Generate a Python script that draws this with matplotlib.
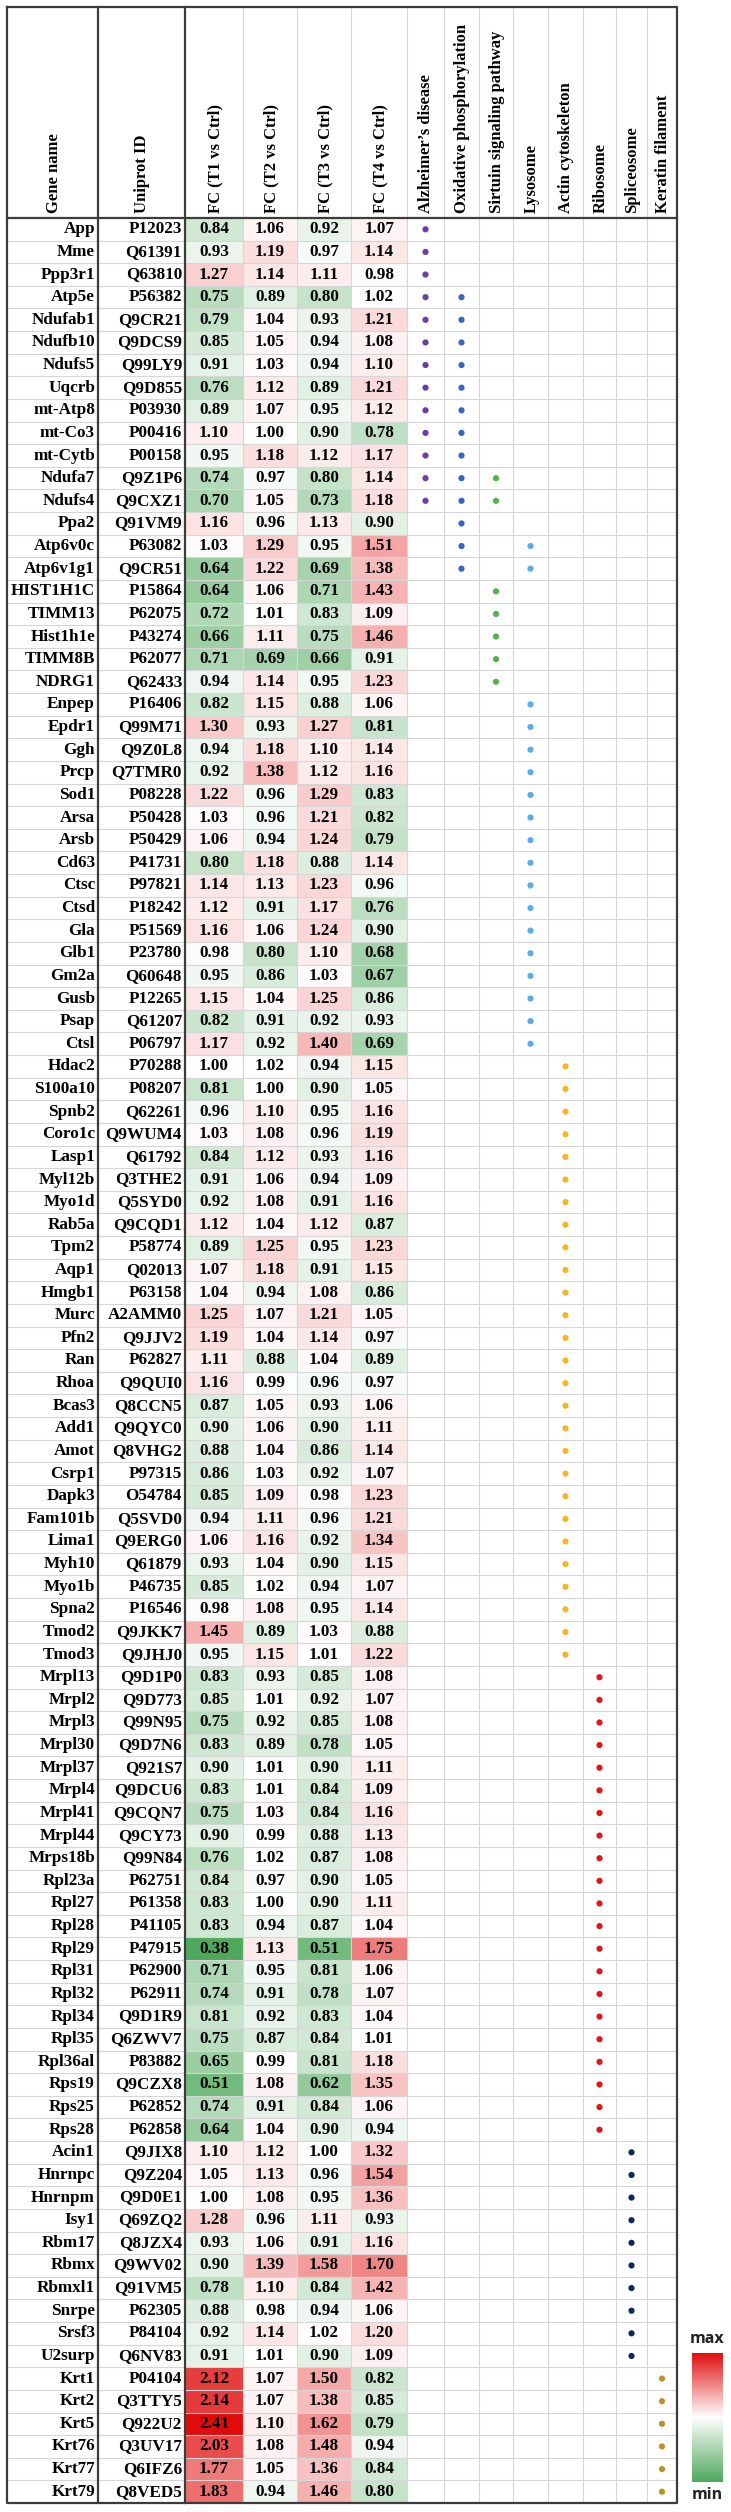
import numpy as np
import matplotlib
matplotlib.use("Agg")
import matplotlib.pyplot as plt
from matplotlib.colors import LinearSegmentedColormap, TwoSlopeNorm

# ---- data -----------------------------------------------------------------
genes = [
    "App", "Mme", "Ppp3r1", "Atp5e", "Ndufab1", "Ndufb10", "Ndufs5", "Uqcrb",
    "mt-Atp8", "mt-Co3", "mt-Cytb", "Ndufa7", "Ndufs4", "Ppa2", "Atp6v0c",
    "Atp6v1g1", "HIST1H1C", "TIMM13", "Hist1h1e", "TIMM8B", "NDRG1", "Enpep",
    "Epdr1", "Ggh", "Prcp", "Sod1", "Arsa", "Arsb", "Cd63", "Ctsc", "Ctsd",
    "Gla", "Glb1", "Gm2a", "Gusb", "Psap", "Ctsl", "Hdac2", "S100a10", "Spnb2",
    "Coro1c", "Lasp1", "Myl12b", "Myo1d", "Rab5a", "Tpm2", "Aqp1", "Hmgb1",
    "Murc", "Pfn2", "Ran", "Rhoa", "Bcas3", "Add1", "Amot", "Csrp1", "Dapk3",
    "Fam101b", "Lima1", "Myh10", "Myo1b", "Spna2", "Tmod2", "Tmod3", "Mrpl13",
    "Mrpl2", "Mrpl3", "Mrpl30", "Mrpl37", "Mrpl4", "Mrpl41", "Mrpl44",
    "Mrps18b", "Rpl23a", "Rpl27", "Rpl28", "Rpl29", "Rpl31", "Rpl32", "Rpl34",
    "Rpl35", "Rpl36al", "Rps19", "Rps25", "Rps28", "Acin1", "Hnrnpc", "Hnrnpm",
    "Isy1", "Rbm17", "Rbmx", "Rbmxl1", "Snrpe", "Srsf3", "U2surp", "Krt1",
    "Krt2", "Krt5", "Krt76", "Krt77", "Krt79",
]
uniprot = [
    "P12023", "Q61391", "Q63810", "P56382", "Q9CR21", "Q9DCS9", "Q99LY9", "Q9D855",
    "P03930", "P00416", "P00158", "Q9Z1P6", "Q9CXZ1", "Q91VM9", "P63082",
    "Q9CR51", "P15864", "P62075", "P43274", "P62077", "Q62433", "P16406",
    "Q99M71", "Q9Z0L8", "Q7TMR0", "P08228", "P50428", "P50429", "P41731", "P97821", "P18242",
    "P51569", "P23780", "Q60648", "P12265", "Q61207", "P06797", "P70288", "P08207", "Q62261",
    "Q9WUM4", "Q61792", "Q3THE2", "Q5SYD0", "Q9CQD1", "P58774", "Q02013", "P63158",
    "A2AMM0", "Q9JJV2", "P62827", "Q9QUI0", "Q8CCN5", "Q9QYC0", "Q8VHG2", "P97315", "O54784",
    "Q5SVD0", "Q9ERG0", "Q61879", "P46735", "P16546", "Q9JKK7", "Q9JHJ0", "Q9D1P0",
    "Q9D773", "Q99N95", "Q9D7N6", "Q921S7", "Q9DCU6", "Q9CQN7", "Q9CY73",
    "Q99N84", "P62751", "P61358", "P41105", "P47915", "P62900", "P62911", "Q9D1R9",
    "Q6ZWV7", "P83882", "Q9CZX8", "P62852", "P62858", "Q9JIX8", "Q9Z204", "Q9D0E1",
    "Q69ZQ2", "Q8JZX4", "Q9WV02", "Q91VM5", "P62305", "P84104", "Q6NV83", "P04104",
    "Q3TTY5", "Q922U2", "Q3UV17", "Q6IFZ6", "Q8VED5",
]
fc_t1 = [
    0.84, 0.93, 1.27, 0.75, 0.79, 0.85, 0.91, 0.76, 0.89, 1.10, 0.95, 0.74, 0.70,
    1.16, 1.03, 0.64, 0.64, 0.72, 0.66, 0.71, 0.94, 0.82, 1.30, 0.94, 0.92, 1.22,
    1.03, 1.06, 0.80, 1.14, 1.12, 1.16, 0.98, 0.95, 1.15, 0.82, 1.17, 1.00, 0.81,
    0.96, 1.03, 0.84, 0.91, 0.92, 1.12, 0.89, 1.07, 1.04, 1.25, 1.19, 1.11, 1.16,
    0.87, 0.90, 0.88, 0.86, 0.85, 0.94, 1.06, 0.93, 0.85, 0.98, 1.45, 0.95, 0.83,
    0.85, 0.75, 0.83, 0.90, 0.83, 0.75, 0.90, 0.76, 0.84, 0.83, 0.83, 0.38, 0.71,
    0.74, 0.81, 0.75, 0.65, 0.51, 0.74, 0.64, 1.10, 1.05, 1.00, 1.28, 0.93, 0.90,
    0.78, 0.88, 0.92, 0.91, 2.12, 2.14, 2.41, 2.03, 1.77, 1.83,
]
fc_t2 = [
    1.06, 1.19, 1.14, 0.89, 1.04, 1.05, 1.03, 1.12, 1.07, 1.00, 1.18, 0.97, 1.05,
    0.96, 1.29, 1.22, 1.06, 1.01, 1.11, 0.69, 1.14, 1.15, 0.93, 1.18, 1.38, 0.96,
    0.96, 0.94, 1.18, 1.13, 0.91, 1.06, 0.80, 0.86, 1.04, 0.91, 0.92, 1.02, 1.00,
    1.10, 1.08, 1.12, 1.06, 1.08, 1.04, 1.25, 1.18, 0.94, 1.07, 1.04, 0.88, 0.99,
    1.05, 1.06, 1.04, 1.03, 1.09, 1.11, 1.16, 1.04, 1.02, 1.08, 0.89, 1.15, 0.93,
    1.01, 0.92, 0.89, 1.01, 1.01, 1.03, 0.99, 1.02, 0.97, 1.00, 0.94, 1.13, 0.95,
    0.91, 0.92, 0.87, 0.99, 1.08, 0.91, 1.04, 1.12, 1.13, 1.08, 0.96, 1.06, 1.39,
    1.10, 0.98, 1.14, 1.01, 1.07, 1.07, 1.10, 1.08, 1.05, 0.94,
]
fc_t3 = [
    0.92, 0.97, 1.11, 0.80, 0.93, 0.94, 0.94, 0.89, 0.95, 0.90, 1.12, 0.80, 0.73,
    1.13, 0.95, 0.69, 0.71, 0.83, 0.75, 0.66, 0.95, 0.88, 1.27, 1.10, 1.12, 1.29,
    1.21, 1.24, 0.88, 1.23, 1.17, 1.24, 1.10, 1.03, 1.25, 0.92, 1.40, 0.94, 0.90,
    0.95, 0.96, 0.93, 0.94, 0.91, 1.12, 0.95, 0.91, 1.08, 1.21, 1.14, 1.04, 0.96,
    0.93, 0.90, 0.86, 0.92, 0.98, 0.96, 0.92, 0.90, 0.94, 0.95, 1.03, 1.01, 0.85,
    0.92, 0.85, 0.78, 0.90, 0.84, 0.84, 0.88, 0.87, 0.90, 0.90, 0.87, 0.51, 0.81,
    0.78, 0.83, 0.84, 0.81, 0.62, 0.84, 0.90, 1.00, 0.96, 0.95, 1.11, 0.91, 1.58,
    0.84, 0.94, 1.02, 0.90, 1.50, 1.38, 1.62, 1.48, 1.36, 1.46,
]
fc_t4 = [
    1.07, 1.14, 0.98, 1.02, 1.21, 1.08, 1.10, 1.21, 1.12, 0.78, 1.17, 1.14, 1.18,
    0.90, 1.51, 1.38, 1.43, 1.09, 1.46, 0.91, 1.23, 1.06, 0.81, 1.14, 1.16, 0.83,
    0.82, 0.79, 1.14, 0.96, 0.76, 0.90, 0.68, 0.67, 0.86, 0.93, 0.69, 1.15, 1.05,
    1.16, 1.19, 1.16, 1.09, 1.16, 0.87, 1.23, 1.15, 0.86, 1.05, 0.97, 0.89, 0.97,
    1.06, 1.11, 1.14, 1.07, 1.23, 1.21, 1.34, 1.15, 1.07, 1.14, 0.88, 1.22, 1.08,
    1.07, 1.08, 1.05, 1.11, 1.09, 1.16, 1.13, 1.08, 1.05, 1.11, 1.04, 1.75, 1.06,
    1.07, 1.04, 1.01, 1.18, 1.35, 1.06, 0.94, 1.32, 1.54, 1.36, 0.93, 1.16, 1.70,
    1.42, 1.06, 1.20, 1.09, 0.82, 0.85, 0.79, 0.94, 0.84, 0.80,
]
fc_headers = ["FC (T1 vs Ctrl)", "FC (T2 vs Ctrl)", "FC (T3 vs Ctrl)", "FC (T4 vs Ctrl)"]

pathways = [
    "Alzheimer\u2019s disease", "Oxidative phosphorylation", "Sirtuin signaling pathway",
    "Lysosome", "Actin cytoskeleton", "Ribosome", "Spliceosome", "Keratin filament",
]
pathway_colors = ["#6a3fa3", "#3466c2", "#55b04f", "#5aaee8",
                  "#f2b829", "#e3141c", "#14245c", "#b9922c"]


def span(first, last):
    return genes[genes.index(first):genes.index(last) + 1]


pathway_members = [
    span("App", "Ndufs4"),
    span("Atp5e", "Atp6v1g1"),
    ["Ndufa7", "Ndufs4"] + span("HIST1H1C", "NDRG1"),
    ["Atp6v0c", "Atp6v1g1"] + span("Enpep", "Ctsl"),
    span("Hdac2", "Tmod3"),
    span("Mrpl13", "Rps28"),
    span("Acin1", "U2surp"),
    span("Krt1", "Krt79"),
]

# ---- layout (pixels) ------------------------------------------------------
W, H = 731, 2512
col_edges = [7, 98, 185, 243, 297, 351, 407, 444, 479, 513, 548, 583, 616, 647, 677]
top, head_bot, bottom = 7, 218, 2503
n = len(genes)
y_edges = np.linspace(head_bot, bottom, n + 1)
y_mid = (y_edges[:-1] + y_edges[1:]) / 2
x_mid = [(a + b) / 2 for a, b in zip(col_edges[:-1], col_edges[1:])]

SERIF = "Liberation Serif"
cmap = LinearSegmentedColormap.from_list("gwr", ["#4fa85c", "#ffffff", "#e00b0b"])
fc = np.array([fc_t1, fc_t2, fc_t3, fc_t4]).T
norm = TwoSlopeNorm(vmin=fc.min(), vcenter=1.0, vmax=fc.max())

fig = plt.figure(figsize=(W / 100, H / 100), dpi=100)
ax = fig.add_axes([0, 0, 1, 1])
ax.set_xlim(0, W)
ax.set_ylim(H, 0)
ax.axis("off")

# heatmap cells
ax.pcolormesh(col_edges[2:7], y_edges, fc, cmap=cmap, norm=norm, zorder=1)

# grid
grid_c = "#d6d6d6"
for y in y_edges[1:-1]:
    ax.plot([col_edges[0], col_edges[-1]], [y, y], color=grid_c, lw=0.8, zorder=2)
for x in col_edges[3:6] + col_edges[7:14]:
    ax.plot([x, x], [top, bottom], color=grid_c, lw=0.8, zorder=2)
x_fc_end = col_edges[6]
ax.plot([x_fc_end, x_fc_end], [top, bottom], color=grid_c, lw=0.8, zorder=2)

dark = "#3c3c3c"
for x in col_edges[1:3]:
    ax.plot([x, x], [top, bottom], color=dark, lw=1.6, zorder=3)
ax.plot([col_edges[0], col_edges[-1]], [head_bot, head_bot], color=dark, lw=1.6, zorder=3)
ax.plot([col_edges[0], col_edges[-1], col_edges[-1], col_edges[0], col_edges[0]],
        [top, top, bottom, bottom, top], color=dark, lw=1.6, zorder=3)

# header
headers = ["Gene name", "Uniprot ID"] + fc_headers + pathways
for xm, label in zip(x_mid, headers):
    ax.text(xm + 1, head_bot - 5, label, rotation=90, ha="center", va="bottom",
            fontsize=12, fontweight="bold", family=SERIF, zorder=4)

# body text
fs = 12.3
for i in range(n):
    ax.text(col_edges[1] - 3, y_mid[i], genes[i], ha="right", va="center",
            fontsize=fs, fontweight="bold", family=SERIF, zorder=4)
    ax.text(col_edges[2] - 3, y_mid[i], uniprot[i], ha="right", va="center",
            fontsize=fs, fontweight="bold", family=SERIF, zorder=4)
    for j in range(4):
        ax.text(x_mid[2 + j], y_mid[i], f"{fc[i, j]:.2f}", ha="center", va="center",
                fontsize=fs, fontweight="bold", family=SERIF, zorder=4)

# pathway dots
for k, (members, color) in enumerate(zip(pathway_members, pathway_colors)):
    rows = [genes.index(g) for g in members]
    ax.scatter([x_mid[6 + k]] * len(rows), y_mid[rows], s=20, color=color,
               edgecolors="none", zorder=4)

# colour bar
cb_left, cb_top, cb_w, cb_h = 692, 2353, 31, 129
cax = fig.add_axes([cb_left / W, 1 - (cb_top + cb_h) / H, cb_w / W, cb_h / H])
grad = np.linspace(1, 0, 256).reshape(-1, 1)
cax.imshow(grad, aspect="auto", cmap=cmap, vmin=0, vmax=1)
cax.axis("off")
ax.text(cb_left + cb_w / 2, cb_top - 6, "max", ha="center", va="bottom",
        fontsize=11.5, fontweight="bold", family="Open Sans", color="#222222")
ax.text(cb_left + cb_w / 2, cb_top + cb_h + 5, "min", ha="center", va="top",
        fontsize=11.5, fontweight="bold", family="Open Sans", color="#222222")

fig.savefig("out.png", dpi=100)
